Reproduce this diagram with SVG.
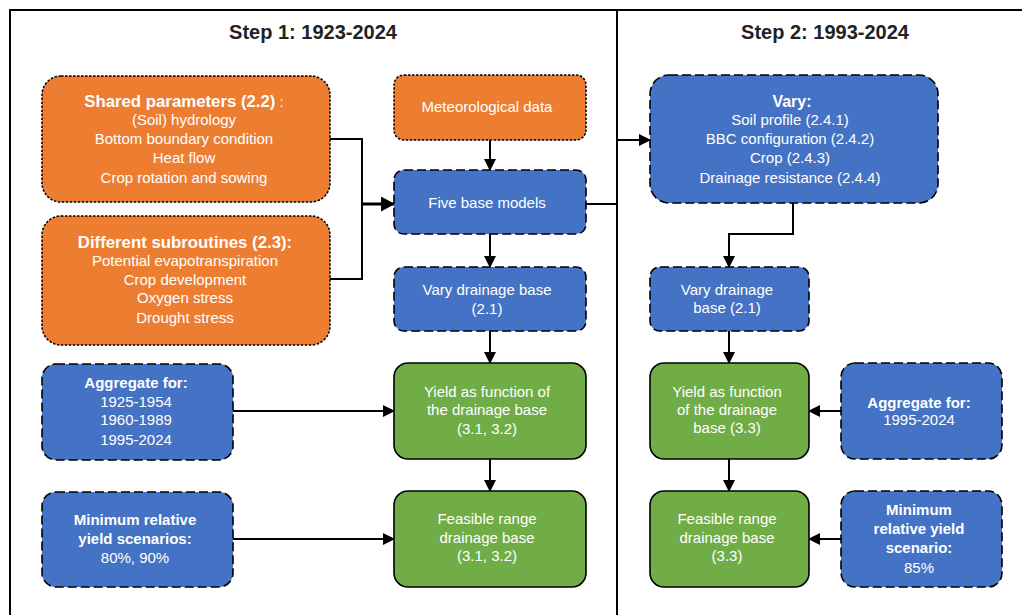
<svg xmlns="http://www.w3.org/2000/svg" width="1022" height="615" viewBox="0 0 1022 615">
<defs>
<marker id="ah" markerUnits="userSpaceOnUse" markerWidth="12" markerHeight="12" viewBox="0 0 12 12" refX="11" refY="6" orient="auto">
<path d="M0,0 L12,6 L0,12 Z" fill="#000"/>
</marker>
<marker id="ahb" markerUnits="userSpaceOnUse" markerWidth="14" markerHeight="15" viewBox="0 0 14 15" refX="13" refY="7.5" orient="auto">
<path d="M0,0 L14,7.5 L0,15 Z" fill="#000"/>
</marker>
<style>
text{font-family:"Liberation Sans",Arial,sans-serif;font-size:15px;fill:#fff;text-anchor:middle}
.b{font-weight:bold}
.h17{font-size:16.8px;font-weight:bold}
.h16{font-size:16px;font-weight:bold}
.t{font-size:20px;font-weight:bold;fill:#222}
.or{fill:#ED7D31;stroke:#000;stroke-width:1.5;stroke-dasharray:2.5 1.5}
.bl{fill:#4472C4;stroke:#000;stroke-width:1.6;stroke-dasharray:9 4}
.gr{fill:#70AD47;stroke:#000;stroke-width:1.6}
.c{fill:none;stroke:#000;stroke-width:2}
.ca{fill:none;stroke:#000;stroke-width:2;marker-end:url(#ah)}
.fr{fill:none;stroke:#000;stroke-width:2}
</style>
</defs>
<rect width="1022" height="615" fill="#fff"/>
<g id="frame">
<path class="fr" d="M10,615 V10 H1022"/>
<path class="fr" d="M617,10 V615"/>
<text class="t" x="313" y="39">Step 1: 1923-2024</text>
<text class="t" x="825" y="39">Step 2: 1993-2024</text>
</g>
<g id="connectors">
<path class="c" d="M330,139 H362 V279 H330"/>
<path d="M362,204 H394" fill="none" stroke="#000" stroke-width="3" marker-end="url(#ahb)"/>
<path class="ca" d="M490,140 V170"/>
<path class="c" d="M586,204 H617"/>
<path class="ca" d="M617,140 H650"/>
<path class="ca" d="M490,234 V267"/>
<path class="ca" d="M490,331 V363"/>
<path class="ca" d="M490,459 V491"/>
<path class="ca" d="M233,411 H394"/>
<path class="ca" d="M233,539 H394"/>
<path class="ca" d="M793,203 V234 H729 V267"/>
<path class="ca" d="M729,331 V363"/>
<path class="ca" d="M729,459 V491"/>
<path class="ca" d="M841,411 H809"/>
<path class="ca" d="M841,539 H809"/>
</g>
<g id="shared">
<rect class="or" x="42" y="76" width="288" height="126" rx="19"/>
<text x="184" y="107"><tspan class="h17">Shared parameters (2.2)</tspan> :</text>
<text x="184" y="125">(Soil) hydrology</text>
<text x="184" y="144">Bottom boundary condition</text>
<text x="184" y="163">Heat flow</text>
<text x="184" y="183">Crop rotation and sowing</text>
</g>
<g id="different">
<rect class="or" x="42" y="216" width="288" height="129" rx="19"/>
<text class="h17" x="185" y="248">Different subroutines (2.3):</text>
<text x="185" y="266">Potential evapotranspiration</text>
<text x="185" y="285">Crop development</text>
<text x="185" y="303">Oxygen stress</text>
<text x="185" y="323">Drought stress</text>
</g>
<g id="meteo">
<rect class="or" x="394" y="75" width="192" height="65" rx="10"/>
<text x="487" y="112">Meteorological data</text>
</g>
<g id="five">
<rect class="bl" x="394" y="170" width="192" height="64" rx="10"/>
<text x="487" y="208">Five base models</text>
</g>
<g id="varydb1">
<rect class="bl" x="394" y="267" width="192" height="64" rx="10"/>
<text x="487" y="295">Vary drainage base</text>
<text x="487" y="314">(2.1)</text>
</g>
<g id="yield1">
<rect class="gr" x="394" y="363" width="192" height="96" rx="14"/>
<text x="487" y="397">Yield as function of</text>
<text x="487" y="415">the drainage base</text>
<text x="487" y="434">(3.1, 3.2)</text>
</g>
<g id="feasible1">
<rect class="gr" x="394" y="491" width="192" height="96" rx="14"/>
<text x="487" y="524">Feasible range</text>
<text x="487" y="543">drainage base</text>
<text x="487" y="561">(3.1, 3.2)</text>
</g>
<g id="aggregate1">
<rect class="bl" x="42" y="364" width="191" height="96" rx="14"/>
<text class="b" x="136" y="388">Aggregate for:</text>
<text x="136" y="407">1925-1954</text>
<text x="136" y="425">1960-1989</text>
<text x="136" y="445">1995-2024</text>
</g>
<g id="minimum1">
<rect class="bl" x="42" y="492" width="191" height="95" rx="14"/>
<text class="b" x="135" y="525">Minimum relative</text>
<text class="b" x="135" y="544">yield scenarios:</text>
<text x="135" y="563">80%, 90%</text>
</g>
<g id="vary">
<rect class="bl" x="650" y="75" width="288" height="128" rx="19"/>
<text class="h16" x="792" y="107">Vary:</text>
<text x="790" y="125">Soil profile (2.4.1)</text>
<text x="790" y="144">BBC configuration (2.4.2)</text>
<text x="790" y="163">Crop (2.4.3)</text>
<text x="790" y="183">Drainage resistance (2.4.4)</text>
</g>
<g id="varydb2">
<rect class="bl" x="650" y="267" width="159" height="64" rx="10"/>
<text x="727" y="295">Vary drainage</text>
<text x="727" y="313">base (2.1)</text>
</g>
<g id="yield2">
<rect class="gr" x="650" y="363" width="159" height="96" rx="14"/>
<text x="727" y="397">Yield as function</text>
<text x="727" y="415">of the drainage</text>
<text x="727" y="433">base (3.3)</text>
</g>
<g id="feasible2">
<rect class="gr" x="650" y="491" width="159" height="96" rx="14"/>
<text x="727" y="524">Feasible range</text>
<text x="727" y="543">drainage base</text>
<text x="727" y="561">(3.3)</text>
</g>
<g id="aggregate2">
<rect class="bl" x="841" y="363" width="161" height="96" rx="14"/>
<text class="b" x="919" y="408">Aggregate for:</text>
<text x="919" y="425">1995-2024</text>
</g>
<g id="minimum2">
<rect class="bl" x="841" y="491" width="161" height="96" rx="14"/>
<text class="b" x="919" y="515">Minimum</text>
<text class="b" x="919" y="534">relative yield</text>
<text class="b" x="919" y="553">scenario:</text>
<text x="919" y="573">85%</text>
</g>
</svg>
